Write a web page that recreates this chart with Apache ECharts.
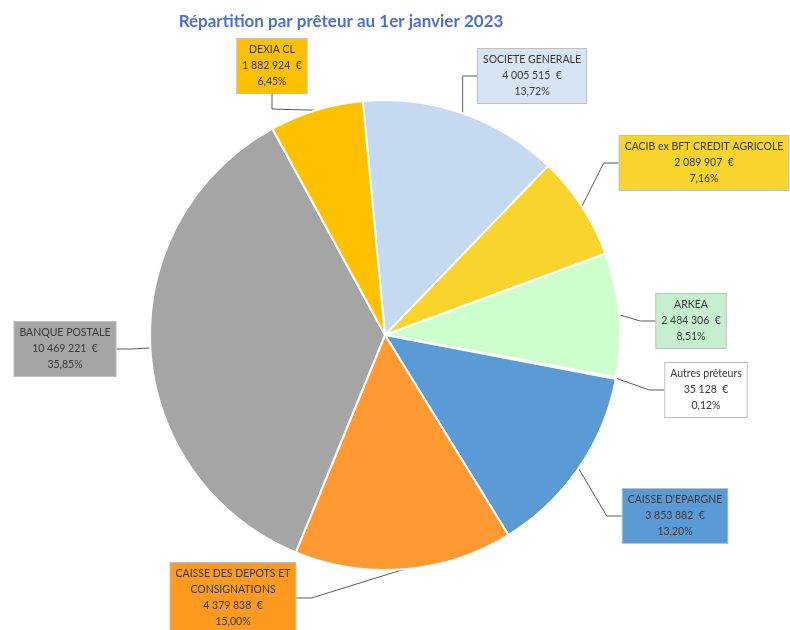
<!DOCTYPE html>
<html>
<head>
<meta charset="utf-8">
<script src="https://cdn.jsdelivr.net/npm/echarts@6/dist/echarts.min.js"></script>
<style>
  html, body { margin: 0; padding: 0; background: #fff; }
  #chart { width: 790px; height: 630px; }
</style>
</head>
<body>
<div id="chart"></div>
<script>
// prêteurs, dans l'ordre horaire depuis le haut
var lenders = ['SOCIETE GENERALE', 'CACIB ex BFT CREDIT AGRICOLE', 'ARKEA', 'Autres prêteurs',
  "CAISSE D'EPARGNE", 'CAISSE DES DEPOTS ET CONSIGNATIONS', 'BANQUE POSTALE', 'DEXIA CL']
var amounts = [4005515, 2089907, 2484306, 35128, 3853882, 4379838, 10469221, 1882924]
var colors = ['#C5D9F0', '#F9D42C', '#CCFFCC', '#F8CBAD', '#5B9BD5', '#FF9A33', '#A5A5A5', '#FFC000']
var boxColors = ['#D6E4F3', '#F9D42C', '#C6EFCE', '#FFFFFF', '#5B9BD5', '#FF9A1F', '#A5A5A5', '#FFC000']
// centre des étiquettes
var labelPos = [[532, 76], [704, 163], [691, 321], [706, 390], [675, 516], [233, 598], [65, 349], [272, 66]]

var total = amounts.reduce(function (a, b) { return a + b }, 0)

function fmtAmount(v) {
  return String(v).replace(/\B(?=(\d{3})+(?!\d))/g, ' ') + '  €'
}

var chart = echarts.init(document.getElementById('chart'))
var option = {
  animation: false,
  title: {
    text: 'Répartition par prêteur au 1er janvier 2023',
    left: 336,
    top: 8,
    textAlign: 'center',
    textStyle: { color: '#4F6FD0', fontSize: 17, fontWeight: 'bold', fontFamily: 'Lato' }
  },
  series: [{
    type: 'pie',
    center: [385, 335],
    radius: 235,
    startAngle: 95.4,
    clockwise: true,
    avoidLabelOverlap: false,
    itemStyle: { borderColor: '#fff', borderWidth: 2 },
    label: {
      show: true,
      position: 'outside',
      fontFamily: 'Lato',
      fontSize: 10.5,
      lineHeight: 16,
      color: '#3a3a3a',
      align: 'center',
      padding: [3, 5],
      borderColor: '#bfbfbf',
      borderWidth: 1,
      formatter: function (p) {
        var name = p.name.replace(' CONSIGNATIONS', '\nCONSIGNATIONS')
        var pct = (p.value / total * 100).toFixed(2).replace('.', ',')
        return name + '\n' + fmtAmount(p.value) + '\n' + pct + '%'
      }
    },
    labelLine: {
      show: true,
      length: 15,
      length2: 15,
      lineStyle: { color: '#595959', width: 1 }
    },
    labelLayout: function (params) {
      var pos = labelPos[params.dataIndex]
      return { x: pos[0], y: pos[1], align: 'center', verticalAlign: 'middle' }
    },
    data: lenders.map(function (n, i) {
      return {
        name: n,
        value: amounts[i],
        itemStyle: { color: colors[i] },
        label: { backgroundColor: boxColors[i] }
      }
    })
  }]
}
chart.setOption(option)
</script>
</body>
</html>
